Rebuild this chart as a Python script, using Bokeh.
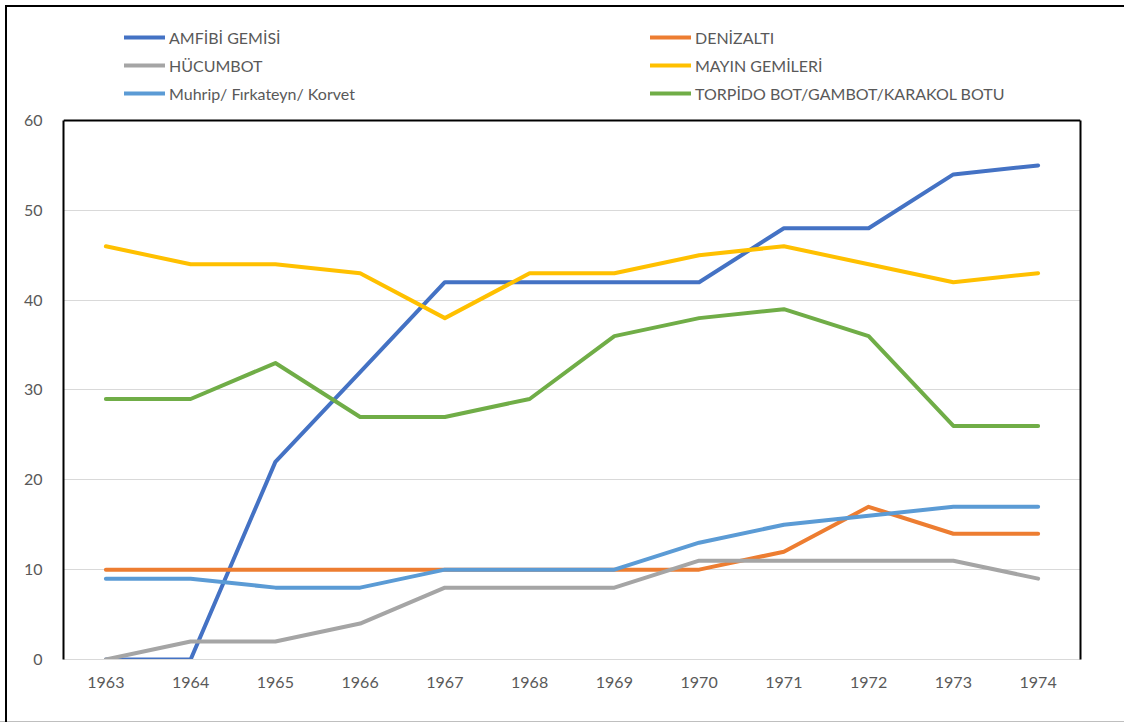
from bokeh.plotting import figure
from bokeh.models import Range1d, FixedTicker, LinearAxis, Legend, LegendItem, Span
from bokeh.embed import file_html
from bokeh.resources import INLINE

years = [1963, 1964, 1965, 1966, 1967, 1968, 1969, 1970, 1971, 1972, 1973, 1974]
amfibi = [0, 0, 22, 32, 42, 42, 42, 42, 48, 48, 54, 55]
denizalti = [10, 10, 10, 10, 10, 10, 10, 10, 12, 17, 14, 14]
hucumbot = [0, 2, 2, 4, 8, 8, 8, 11, 11, 11, 11, 9]
mayin = [46, 44, 44, 43, 38, 43, 43, 45, 46, 44, 42, 43]
muhrip = [9, 9, 8, 8, 10, 10, 10, 13, 15, 16, 17, 17]
torpido = [29, 29, 33, 27, 27, 29, 36, 38, 39, 36, 26, 26]
y_ticks = [0, 10, 20, 30, 40, 50, 60]

series = [
    ("AMFİBİ GEMİSİ", amfibi, "#4472C4"),
    ("DENİZALTI", denizalti, "#ED7D31"),
    ("HÜCUMBOT", hucumbot, "#A5A5A5"),
    ("MAYIN GEMİLERİ", mayin, "#FFC000"),
    ("Muhrip/ Fırkateyn/ Korvet", muhrip, "#5B9BD5"),
    ("TORPİDO BOT/GAMBOT/KARAKOL BOTU", torpido, "#70AD47"),
]
FONT = "Lato"
TXT = "#595959"

Y_MAX = 60
# extra headroom above the value axis holds the legend (frame top at 8px, 60 at 120px)
Y_TOP = 72.467

p = figure(width=1124, height=722, output_backend="svg", toolbar_location=None,
           x_range=Range1d(years[0] - 0.5, years[-1] + 0.5), y_range=Range1d(0, Y_TOP),
           min_border_left=63, min_border_top=8, min_border_right=44, min_border_bottom=63)
p.outline_line_color = None
p.background_fill_color = "white"
p.background_fill_alpha = 0
p.border_fill_alpha = 0
p.styles = {
    "background": ("linear-gradient(#000000, #000000) 5px 5px / 2px 100% no-repeat, "
                   "linear-gradient(#000000, #000000) 5px 5px / 100% 2px no-repeat, "
                   "linear-gradient(#bfbfbf, #bfbfbf) 0 100% / 100% 1px no-repeat, #ffffff"),
}

p.xgrid.grid_line_color = None
p.ygrid.grid_line_color = "#d9d9d9"
p.ygrid.grid_line_width = 1
p.ygrid.ticker = FixedTicker(ticks=y_ticks)

xa = p.xaxis[0]
xa.ticker = FixedTicker(ticks=years)
xa.axis_line_color = "#d9d9d9"
xa.axis_line_width = 1
xa.major_tick_line_color = None
xa.minor_tick_line_color = None
xa.major_label_text_font = FONT
xa.major_label_text_font_size = "16px"
xa.major_label_text_color = TXT
xa.major_label_standoff = 11

ya = p.yaxis[0]
ya.ticker = FixedTicker(ticks=y_ticks)
ya.bounds = (0, Y_MAX)
ya.axis_line_color = "black"
ya.axis_line_width = 2
ya.major_tick_line_color = None
ya.minor_tick_line_color = None
ya.major_label_text_font = FONT
ya.major_label_text_font_size = "16px"
ya.major_label_text_color = TXT
ya.major_label_standoff = 15

ra = LinearAxis(ticker=FixedTicker(ticks=[]), bounds=(0, Y_MAX), axis_line_color="black",
                axis_line_width=2, major_tick_line_color=None, minor_tick_line_color=None,
                major_label_text_color=None)
p.add_layout(ra, "right")
p.add_layout(Span(location=Y_MAX, dimension="width", line_color="black", line_width=2))

items = []
for name, vals, col in series:
    r = p.line(years, vals, line_color=col, line_width=4, line_cap="round", line_join="round")
    items.append(LegendItem(label=name, renderers=[r]))

legend = Legend(items=items, location=(61, 556), orientation="horizontal", ncols=2,
                glyph_width=41, glyph_height=20, label_height=20, label_standoff=4,
                label_width=473, spacing=8, padding=0, margin=0,
                label_text_font=FONT, label_text_font_size="16px", label_text_color=TXT,
                border_line_color=None, background_fill_alpha=0)
p.add_layout(legend, "center")

open("out.html", "w").write(file_html(p, INLINE))
